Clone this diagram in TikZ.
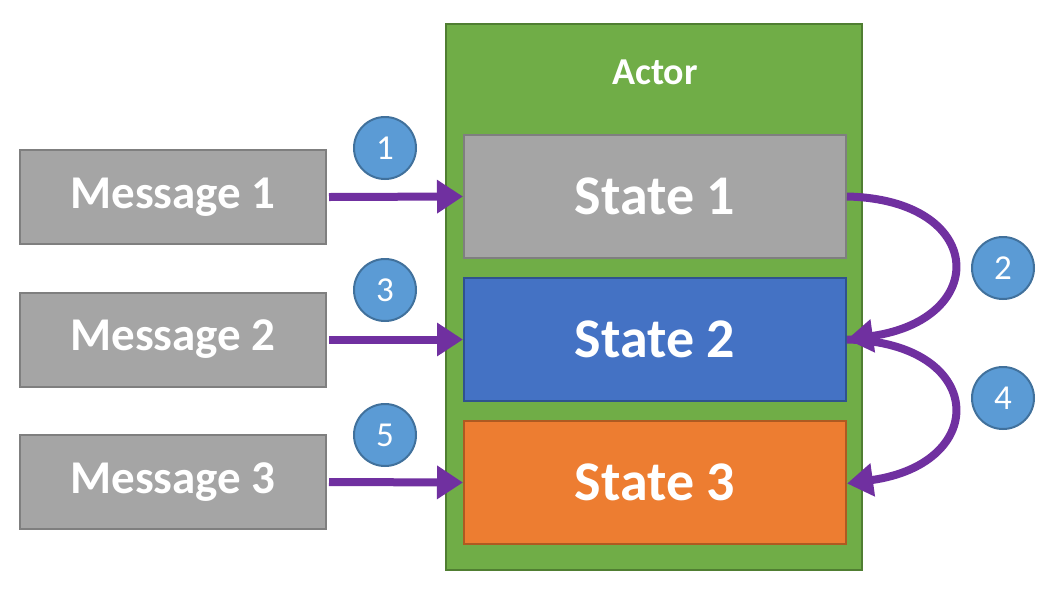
\documentclass[tikz,border=0pt]{standalone}
\usepackage{fontspec}
\setmainfont{Carlito}
\usetikzlibrary{arrows.meta}
\definecolor{purp}{HTML}{7030A0}
\definecolor{gfill}{HTML}{A5A5A5}
\definecolor{gline}{HTML}{7F7F7F}
\definecolor{actfill}{HTML}{70AD47}
\definecolor{actline}{HTML}{507E32}
\definecolor{bfill}{HTML}{4472C4}
\definecolor{bline}{HTML}{2F528F}
\definecolor{ofill}{HTML}{ED7D31}
\definecolor{oline}{HTML}{AE5A21}
\definecolor{cfill}{HTML}{5B9BD5}
\definecolor{cline}{HTML}{41719C}
\tikzset{
  msgbox/.style={rectangle, fill=gfill, draw=gline, line width=2pt, minimum width=306pt, minimum height=94pt, text=white, font=\fontsize{47}{52}\selectfont\bfseries, inner sep=0pt},
  statebox/.style={rectangle, line width=2pt, minimum width=382pt, minimum height=123pt, text=white, font=\fontsize{56}{62}\selectfont\bfseries, inner sep=0pt},
  numcirc/.style={circle, fill=cfill, draw=cline, line width=2pt, minimum size=62pt, inner sep=0pt, text=white, font=\fontsize{35}{40}\selectfont},
  arr/.style={draw=purp, line width=8pt, -{Triangle[length=26pt,width=32pt]}}
}
\begin{document}
\begin{tikzpicture}[x=1pt,y=-1pt]
\useasboundingbox (0,0) rectangle (1050,590);
\node[rectangle, fill=actfill, draw=actline, line width=2pt, minimum width=416pt, minimum height=546pt, inner sep=0pt] (actor) at (654,297) {};
\node[text=white, font=\fontsize{38}{42}\selectfont\bfseries] (actlabel) at (655,72) {Actor};
\node[statebox, fill=gfill, draw=gline] (s1) at (655,196.5) {State 1};
\node[statebox, fill=bfill, draw=bline] (s2) at (655,339.5) {State 2};
\node[statebox, fill=ofill, draw=oline] (s3) at (655,482.5) {State 3};
\node[msgbox] (m1) at (173,197) {Message 1};
\node[msgbox] (m2) at (173,339.5) {Message 2};
\node[msgbox] (m3) at (173,482) {Message 3};
\node[numcirc] (c1) at (385,148) {1};
\node[numcirc] (c3) at (385,290) {3};
\node[numcirc] (c5) at (385,435) {5};
\node[numcirc] (c2) at (1003,268) {2};
\node[numcirc] (c4) at (1003,398) {4};
\draw[arr] ([xshift=2pt]m1.east) -- (s1.west);
\draw[arr] ([xshift=2pt]m2.east) -- (s2.west);
\draw[arr] ([xshift=2pt]m3.east) -- (s3.west);
\draw[arr] (s1.east) .. controls +(139,3) and +(144,-20) .. (s2.east);
\draw[arr] (s2.east) .. controls +(139,3) and +(144,-20) .. ([yshift=-1pt]s3.east);
\end{tikzpicture}
\end{document}
